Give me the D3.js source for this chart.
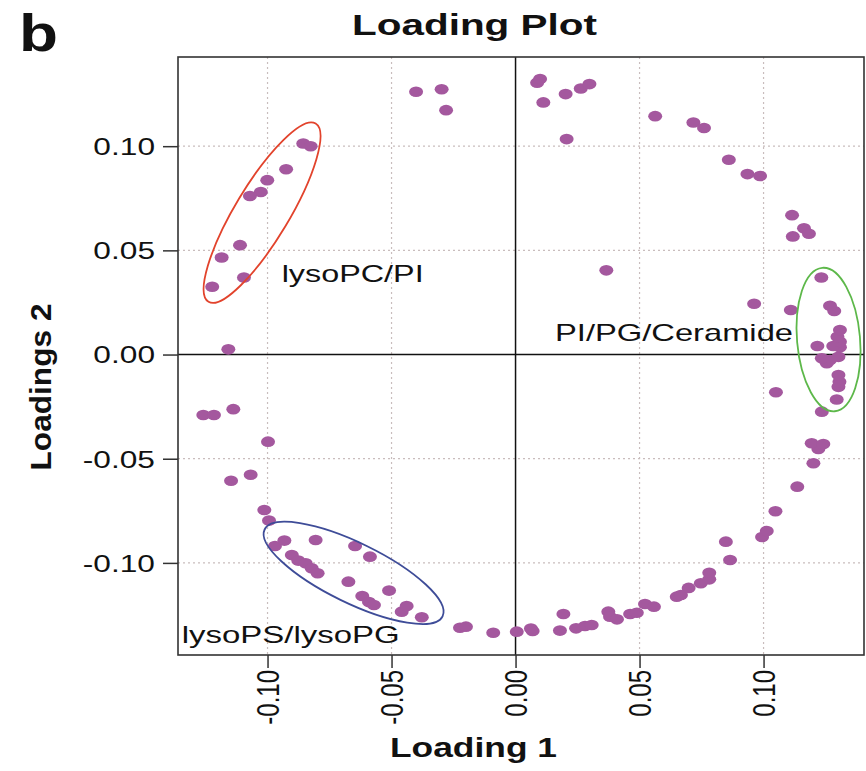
<!DOCTYPE html>
<html>
<head>
<meta charset="utf-8">
<script src="https://cdn.jsdelivr.net/npm/d3@7"></script>
<style>
  body { margin: 0; background: #fff; }
  text { font-family: "Liberation Sans", Arial, sans-serif; fill: #111; }
</style>
</head>
<body>
<svg id="chart" width="866" height="771"></svg>
<script>
// loadings
const loading1 = [
  -0.0401, -0.0298, -0.0280,
  -0.0856, -0.0826, -0.0925, -0.1001, -0.1027, -0.1071, -0.1111, -0.1185, -0.1095, -0.1223, -0.1158,
  -0.1259, -0.1216, -0.1138, -0.0998, -0.1147, -0.1068, -0.1013, -0.0994,
  -0.0970, -0.0932, -0.0806, -0.0902, -0.0876, -0.0846, -0.0822, -0.0798, -0.0647, -0.0587,
  -0.0674, -0.0618, -0.0591, -0.0571, -0.0510, -0.0459, -0.0439, -0.0378,
  -0.0224, -0.0200, -0.0090, 0.0005, 0.0069, 0.0062, 0.0193, 0.0179, 0.0244, 0.0280, 0.0307,
  0.0374, 0.0381, 0.0409, 0.0462, 0.0489, 0.0522, 0.0558, 0.0650, 0.0667, 0.0698, 0.0747,
  0.0781, 0.0781, 0.0865, 0.0848, 0.0994, 0.1013, 0.1048, 0.1136, 0.1201, 0.1221, 0.1194,
  0.1241, 0.1235, 0.1050,
  0.1295, 0.1302, 0.1306, 0.1302, 0.1255, 0.1268, 0.1235, 0.1302, 0.1308, 0.1281, 0.1217,
  0.1308, 0.1298, 0.1308, 0.1285, 0.1268, 0.1233,
  0.1110, 0.0962, 0.0366,
  0.1115, 0.1163, 0.1118, 0.1183, 0.0935, 0.0986, 0.0860, 0.0717, 0.0760, 0.0563, 0.0206,
  0.0087, 0.0099, 0.0112, 0.0202, 0.0263, 0.0298
];
const loading2 = [
  0.1261, 0.1273, 0.1173,
  0.1013, 0.1000, 0.0889, 0.0837, 0.0780, 0.0761, 0.0525, 0.0466, 0.0370, 0.0325, 0.0025,
  -0.0290, -0.0290, -0.0262, -0.0418, -0.0606, -0.0577, -0.0746, -0.0797,
  -0.0919, -0.0893, -0.0890, -0.0962, -0.0989, -0.1002, -0.1026, -0.1050, -0.0919, -0.0970,
  -0.1090, -0.1159, -0.1188, -0.1202, -0.1133, -0.1234, -0.1207, -0.1261,
  -0.1311, -0.1306, -0.1335, -0.1330, -0.1327, -0.1315, -0.1245, -0.1325, -0.1314, -0.1303, -0.1298,
  -0.1234, -0.1258, -0.1271, -0.1245, -0.1239, -0.1197, -0.1210, -0.1162, -0.1154, -0.1120, -0.1098,
  -0.1079, -0.1047, -0.0986, -0.0898, -0.0876, -0.0847, -0.0752, -0.0634, -0.0522, -0.0453, -0.0426,
  -0.0429, -0.0274, -0.0181,
  -0.0216, -0.0155, -0.0131, -0.0098, -0.0042, -0.0026, -0.0018, -0.0011, 0.0035, 0.0041, 0.0041,
  0.0061, 0.0085, 0.0118, 0.0209, 0.0234, 0.0370,
  0.0214, 0.0244, 0.0404,
  0.0669, 0.0606, 0.0567, 0.0580, 0.0866, 0.0857, 0.0935, 0.1114, 0.1087, 0.1144, 0.1034,
  0.1305, 0.1322, 0.1210, 0.1250, 0.1277, 0.1298
];

const tickValues = [-0.10, -0.05, 0.00, 0.05, 0.10];
const gridValues = [-0.10, -0.05, 0.05, 0.10];
const xDomain = [-0.1361, 0.1405];
const yDomain = [-0.1442, 0.1428];

// circled groups: centre in loading units
const groupNames = ["lysoPC/PI", "lysoPS/lysoPG", "PI/PG/Ceramide"];
const groupCx = [-0.1022, -0.0653, 0.1262];
const groupCy = [0.0681, -0.1048, 0.0072];

const box = { left: 178, right: 864, top: 57, bottom: 655 };
const stretch = 1.32; // the figure is widened horizontally
const dotColor = "#a4589e";

const svg = d3.select("#chart");
const x = d3.scaleLinear().domain(xDomain).range([box.left, box.right]);
const y = d3.scaleLinear().domain(yDomain).range([box.bottom, box.top]);

// dotted grid
svg.append("g").selectAll("line.gx").data(gridValues).join("line")
    .attr("x1", d => x(d)).attr("x2", d => x(d))
    .attr("y1", box.top).attr("y2", box.bottom)
    .attr("stroke", "#c9bdbd").attr("stroke-width", 1.2).attr("stroke-dasharray", "2,3");
svg.append("g").selectAll("line.gy").data(gridValues).join("line")
    .attr("y1", d => y(d)).attr("y2", d => y(d))
    .attr("x1", box.left).attr("x2", box.right)
    .attr("stroke", "#c9bdbd").attr("stroke-width", 1.2).attr("stroke-dasharray", "2,3");

// zero lines
svg.append("line").attr("x1", x(0)).attr("x2", x(0)).attr("y1", box.top).attr("y2", box.bottom)
    .attr("stroke", "#111").attr("stroke-width", 1.5);
svg.append("line").attr("y1", y(0)).attr("y2", y(0)).attr("x1", box.left).attr("x2", box.right)
    .attr("stroke", "#111").attr("stroke-width", 1.5);

// points
svg.append("g").selectAll("ellipse").data(loading1).join("ellipse")
    .attr("cx", d => x(d))
    .attr("cy", (d, i) => y(loading2[i]))
    .attr("rx", 7).attr("ry", 5.3)
    .attr("fill", dotColor);

// group ellipses
const ringSize = [[104, 27, -59], [99, 30, 26], [31.5, 72, -5]];
const ringColor = ["#e2432c", "#3e4c98", "#5db84a"];
groupNames.forEach((g, i) => {
    svg.append("ellipse")
        .attr("transform", `translate(${x(groupCx[i])},${y(groupCy[i])}) rotate(${ringSize[i][2]})`)
        .attr("rx", ringSize[i][0]).attr("ry", ringSize[i][1])
        .attr("fill", "none").attr("stroke", ringColor[i]).attr("stroke-width", 1.8);
});

// group labels
const labelPos = [[281.7, 282, 142], [181.7, 643.3, 218], [555, 340.5, 238]];
groupNames.forEach((g, i) => {
    svg.append("text")
        .attr("x", labelPos[i][0]).attr("y", labelPos[i][1])
        .attr("font-size", 24)
        .attr("textLength", labelPos[i][2]).attr("lengthAdjust", "spacingAndGlyphs")
        .text(g);
});

// box
svg.append("rect")
    .attr("x", box.left).attr("y", box.top)
    .attr("width", box.right - box.left).attr("height", box.bottom - box.top)
    .attr("fill", "none").attr("stroke", "#333").attr("stroke-width", 1.6);

// axes
const fmt = d => d.toFixed(2);
const yAxis = svg.append("g").attr("transform", `translate(${box.left},0)`)
    .call(d3.axisLeft(y).tickValues(tickValues).tickSize(15).tickFormat(fmt));
const xAxis = svg.append("g").attr("transform", `translate(0,${box.bottom})`)
    .call(d3.axisBottom(x).tickValues(tickValues).tickSize(13).tickFormat(fmt));
[yAxis, xAxis].forEach(a => {
    a.select(".domain").remove();
    a.selectAll(".tick line").attr("stroke", "#333").attr("stroke-width", 1.5);
    a.selectAll("text").attr("font-size", 24).attr("fill", "#111").attr("font-family", null);
});
yAxis.selectAll("text")
    .attr("x", null).attr("dy", "0.35em")
    .attr("transform", `translate(-23,0) scale(${stretch},1)`);
xAxis.selectAll("text")
    .attr("y", null).attr("dy", "0.35em")
    .attr("text-anchor", "end")
    .attr("transform", `translate(0,15) scale(${stretch},1) rotate(-90)`);

// titles
svg.append("text").attr("x", 474.5).attr("y", 35).attr("text-anchor", "middle")
    .attr("font-size", 30).attr("font-weight", "bold")
    .attr("textLength", 245).attr("lengthAdjust", "spacingAndGlyphs")
    .text("Loading Plot");
svg.append("text").attr("x", 19).attr("y", 51)
    .attr("font-size", 52).attr("font-weight", "bold")
    .attr("textLength", 39).attr("lengthAdjust", "spacingAndGlyphs")
    .text("b");
svg.append("text").attr("x", 473.5).attr("y", 757).attr("text-anchor", "middle")
    .attr("font-size", 27).attr("font-weight", "bold")
    .attr("textLength", 167).attr("lengthAdjust", "spacingAndGlyphs")
    .text("Loading 1");
svg.append("text")
    .attr("transform", `translate(51,387) scale(${stretch},1) rotate(-90)`)
    .attr("text-anchor", "middle")
    .attr("font-size", 23).attr("font-weight", "bold")
    .attr("textLength", 167).attr("lengthAdjust", "spacingAndGlyphs")
    .text("Loadings 2");
</script>
</body>
</html>
